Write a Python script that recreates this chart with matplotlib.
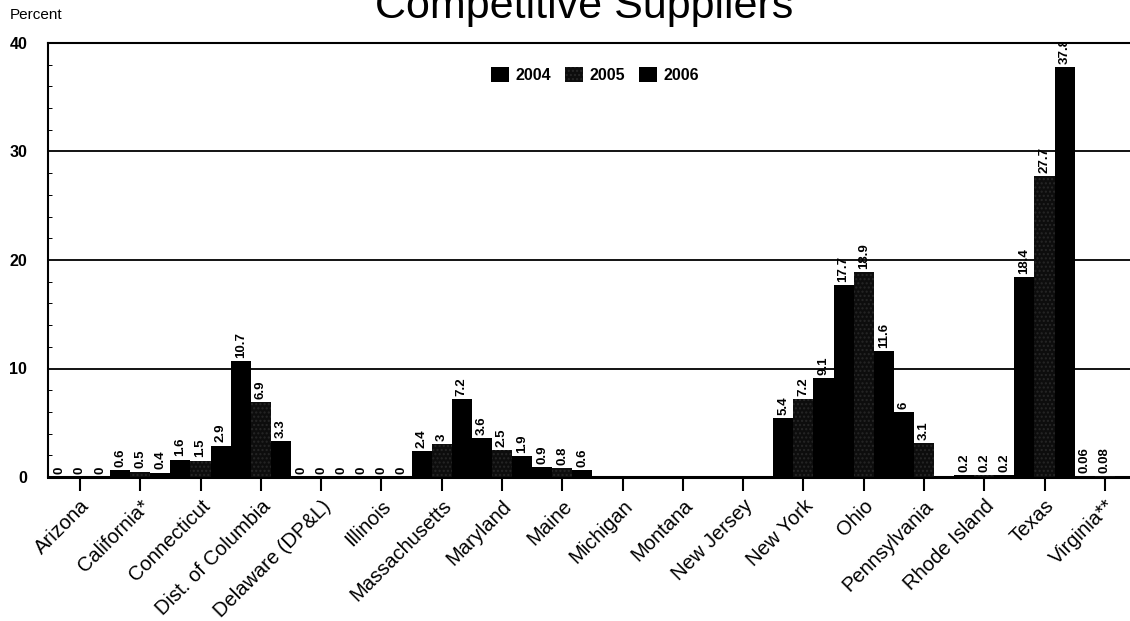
import matplotlib
matplotlib.use("Agg")
import matplotlib.pyplot as plt
import numpy as np

# --- Data (percent) ---
states = ["Arizona", "California*", "Connecticut", "Dist. of Columbia",
          "Delaware (DP&L)", "Illinois", "Massachusetts", "Maryland", "Maine",
          "Michigan", "Montana", "New Jersey", "New York", "Ohio",
          "Pennsylvania", "Rhode Island", "Texas", "Virginia**"]
nan = np.nan
v2004 = [0, 0.6, 1.6, 10.7, 0, 0, 2.4, 3.6, 0.9, nan, nan, nan, 5.4, 17.7, 6, 0.2, 18.4, 0.06]
v2005 = [0, 0.5, 1.5, 6.9, 0, 0, 3, 2.5, 0.8, nan, nan, nan, 7.2, 18.9, 3.1, 0.2, 27.7, 0.08]
v2006 = [0, 0.4, 2.9, 3.3, 0, 0, 7.2, 1.9, 0.6, nan, nan, nan, 9.1, 11.6, nan, 0.2, 37.8, nan]
years = ["2004", "2005", "2006"]

plt.rcParams["font.family"] = ["Liberation Sans", "DejaVu Sans"]

fig = plt.figure(figsize=(11.3, 6.21), dpi=100)
ax = fig.add_axes([48 / 1130, 1 - 477 / 621, (1141 - 48) / 1130, (477 - 43) / 621])

x = np.arange(len(states))
w = 1 / 3
series = [v2004, v2005, v2006]
styles = [dict(color="black"),
          dict(color="#0d0d0d", hatch="....", edgecolor="#262626", linewidth=0),
          dict(color="black")]

for k, (vals, st, yr) in enumerate(zip(series, styles, years)):
    pos = x + (k - 1) * w
    ax.bar(pos, vals, w, label=yr, zorder=3, **st)
    for p, v in zip(pos, vals):
        if np.isnan(v):
            continue
        ax.text(p, v + 0.3, f"{v:g}", rotation=90, ha="center", va="bottom",
                fontsize=9.5, fontweight="bold", color="black", zorder=4,
                clip_on=True)

ax.set_xlim(-0.53, 17.6)
ax.set_ylim(0, 40)

ax.set_yticks([0, 10, 20, 30, 40])
ax.set_yticks(np.arange(0, 40, 2), minor=True)
ax.tick_params(axis="y", which="major", length=0, pad=15, labelsize=11.5)
ax.tick_params(axis="y", which="minor", direction="in", length=3, width=0.7)
for lab in ax.get_yticklabels():
    lab.set_fontweight("bold")

ax.set_xticks(x)
ax.set_xticklabels(states, rotation=45, ha="right", rotation_mode="anchor",
                   fontsize=14.5)
ax.tick_params(axis="x", which="major", length=10, width=1.5, pad=4)
ax.tick_params(axis="x", which="minor", length=0)

ax.yaxis.grid(True, color="black", linewidth=1.3, zorder=1)
ax.set_axisbelow(True)
for s in ["left", "top", "bottom"]:
    ax.spines[s].set_color("black")
ax.spines["left"].set_linewidth(1.5)
ax.spines["top"].set_linewidth(1.5)
ax.spines["bottom"].set_linewidth(2.2)
ax.spines["right"].set_visible(False)

leg = fig.legend(loc="center", bbox_to_anchor=(595 / 1130, 1 - 75 / 621),
                 ncol=3, frameon=False, handlelength=1.1, handleheight=1.1,
                 handletextpad=0.4, columnspacing=0.9,
                 prop={"size": 11.5, "weight": "bold"})

fig.text(584 / 1130, 1 - 18 / 621, "Competitive Suppliers", ha="center",
         va="baseline", fontsize=31)
fig.text(10 / 1130, 1 - 15 / 621, "Percent", ha="left", va="center",
         fontsize=11)

fig.savefig("out.png", dpi=100, facecolor="white")
